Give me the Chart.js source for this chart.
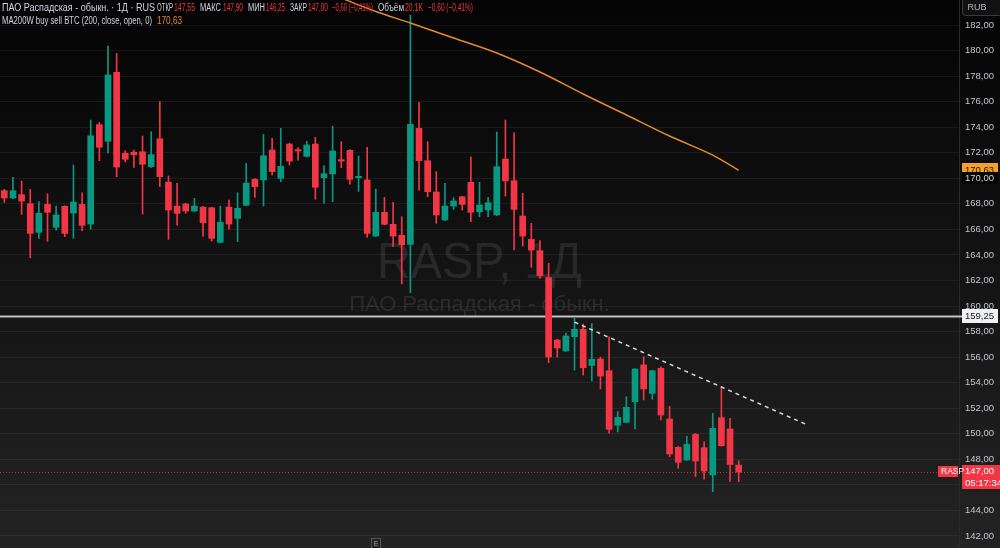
<!DOCTYPE html>
<html>
<head>
<meta charset="utf-8">
<script src="https://cdn.jsdelivr.net/npm/chart.js@4.4.1/dist/chart.umd.min.js"></script>
<style>
  html, body { margin: 0; padding: 0; background: #000; }
  canvas { display: block; }
</style>
</head>
<body>
<canvas id="chart" width="1000" height="548"></canvas>
<script>
// RASP daily candles
const opens = [169.03, 168.46, 168.72, 168.01, 165.77, 167.96, 166.16, 167.81, 167.28, 167.96,
  166.42, 174.20, 172.90, 178.30, 171.96, 172.04, 172.08, 170.91, 173.10, 169.71,
  167.83, 167.99, 167.44, 167.75, 167.70, 164.99, 167.75, 166.87, 167.89, 169.92,
  169.87, 172.22, 170.00, 172.68, 172.24, 171.72, 172.68, 170.05, 170.34, 171.46,
  172.19, 170.05, 169.87, 165.48, 167.34, 166.40, 165.54, 164.83, 173.91, 171.38,
  168.93, 166.74, 167.83, 168.56, 169.69, 167.39, 167.52, 167.13, 171.51, 169.81,
  167.05, 165.22, 164.33, 162.23, 157.34, 156.48, 157.60, 158.18, 155.35, 155.86,
  154.94, 150.67, 150.90, 152.51, 155.39, 153.17, 155.13, 151.16, 148.94, 147.95,
  149.96, 148.91, 146.78, 151.26, 150.38, 147.55];
const highs = [169.14, 170.08, 169.79, 169.14, 168.17, 168.79, 167.83, 167.85, 171.04, 168.87,
  174.56, 174.38, 180.38, 179.78, 172.16, 172.22, 173.31, 173.65, 176.00, 170.18,
  169.61, 168.05, 168.43, 167.80, 167.75, 167.83, 168.30, 168.87, 171.17, 169.98,
  173.44, 173.13, 173.91, 172.75, 172.40, 172.90, 173.21, 170.99, 174.09, 172.87,
  172.25, 171.75, 172.43, 169.16, 168.51, 168.12, 166.99, 182.78, 175.95, 172.87,
  170.52, 169.61, 168.48, 168.60, 171.69, 169.69, 168.51, 173.62, 174.56, 173.57,
  168.83, 166.48, 165.12, 163.35, 157.40, 157.89, 159.06, 158.60, 158.63, 156.01,
  157.60, 151.73, 152.90, 155.10, 156.04, 154.98, 155.25, 152.14, 149.00, 149.80,
  150.02, 149.38, 151.60, 153.69, 151.21, 147.90];
const lows = [168.12, 168.40, 167.18, 163.78, 165.30, 165.07, 165.95, 165.43, 165.30, 165.90,
  166.01, 171.38, 171.96, 170.13, 171.28, 170.86, 167.21, 170.85, 169.34, 165.22,
  166.34, 167.26, 167.40, 165.48, 165.09, 164.95, 166.01, 165.04, 167.85, 168.51,
  167.83, 170.26, 169.73, 171.04, 171.43, 171.68, 168.36, 168.04, 168.17, 170.83,
  169.55, 168.98, 165.38, 165.44, 166.36, 164.65, 161.73, 161.05, 169.08, 168.56,
  166.48, 166.70, 167.57, 167.52, 166.60, 166.99, 166.99, 167.09, 168.61, 164.39,
  164.70, 163.03, 162.17, 155.57, 156.01, 156.44, 154.99, 154.60, 154.13, 153.51,
  150.04, 150.14, 150.86, 150.38, 152.65, 152.70, 151.08, 148.21, 147.30, 147.91,
  146.64, 146.44, 145.47, 149.03, 146.27, 146.25];
const closes = [168.46, 169.03, 168.22, 165.69, 167.26, 167.34, 167.13, 165.69, 168.14, 166.32,
  173.33, 172.43, 178.09, 170.88, 171.49, 171.85, 171.10, 171.85, 170.13, 167.52,
  167.26, 167.44, 167.83, 166.52, 165.30, 166.56, 166.42, 167.65, 169.63, 169.34,
  171.77, 170.52, 170.94, 171.35, 172.14, 172.61, 169.30, 170.36, 172.14, 171.35,
  169.92, 170.16, 165.69, 167.34, 166.40, 165.48, 164.80, 174.23, 171.38, 168.95,
  167.13, 167.83, 168.22, 167.96, 167.34, 167.91, 168.09, 170.91, 169.79, 167.57,
  165.48, 164.39, 162.38, 156.01, 156.72, 157.66, 158.18, 155.17, 155.83, 154.52,
  150.35, 151.29, 152.07, 155.07, 153.51, 154.94, 151.47, 148.42, 147.77, 149.18,
  147.87, 147.09, 150.43, 149.07, 147.60, 147.00];

// price axis ticks
const yTicks = [142, 144, 146, 148, 150, 152, 154, 156, 158, 160, 162, 164, 166, 168, 170, 172, 174, 176, 178, 180, 182];

// MA200W readings (candle index -> value)
const maIdx = [39, 43, 47, 52, 57, 62, 67, 72, 77, 82, 85];
const maVals = [184.11, 183.06, 182.16, 180.98, 179.81, 178.32, 176.60, 174.96, 173.31, 171.82, 170.63];

// dashed resistance line
const trendIdx = [66, 93];
const trendVals = [158.74, 150.68];

const levelPrice = 159.25;
const volumeText = '20,1K';
const countdown = '05:17:34';

const UP = '#089981';
const DOWN = '#f23645';
const MA_COLOR = '#e38a2c';
const FONT = '"Liberation Sans", Arial, sans-serif';
const AXIS_FONT = '9.5px ' + FONT;
const slots = 111; // candles plus empty space on the right

const labels = Array.from({ length: slots }, (_, i) => String(i + 1));
const colors = closes.map((c, i) => (c >= opens[i] ? UP : DOWN));
const fmt = v => v.toFixed(2).replace('.', ',').replace('-', '\u2212');
const last = closes.length - 1;

const background = {
  id: 'background',
  beforeDraw(chart) {
    const { ctx, width, height } = chart;
    const g = ctx.createLinearGradient(0, 0, 0, height);
    g.addColorStop(0, '#040404');
    g.addColorStop(1, '#232323');
    ctx.save();
    ctx.fillStyle = g;
    ctx.fillRect(0, 0, width, height);
    ctx.restore();
  },
  beforeDatasetsDraw(chart) {
    const { ctx, chartArea: a, scales: { y } } = chart;
    const cx = (a.left + a.right) / 2;
    ctx.save();
    // watermark
    ctx.fillStyle = 'rgba(255,255,255,0.09)';
    ctx.textAlign = 'center';
    ctx.textBaseline = 'alphabetic';
    ctx.font = '50px ' + FONT;
    ctx.fillText('RASP, 1Д', cx, 278, 205);
    ctx.font = '22px ' + FONT;
    ctx.fillText('ПАО Распадская - обыкн.', cx, 311, 275);
    // horizontal level
    const ly = Math.round(y.getPixelForValue(levelPrice)) + 0.5;
    ctx.strokeStyle = '#c4c4c4';
    ctx.lineWidth = 2;
    ctx.beginPath();
    ctx.moveTo(a.left, ly);
    ctx.lineTo(a.right + 3, ly);
    ctx.stroke();
    // last price line
    const py = Math.round(y.getPixelForValue(closes[last])) + 0.5;
    ctx.strokeStyle = 'rgba(242,54,69,0.7)';
    ctx.lineWidth = 1;
    ctx.setLineDash([1, 2]);
    ctx.beginPath();
    ctx.moveTo(a.left, py);
    ctx.lineTo(a.right, py);
    ctx.stroke();
    ctx.restore();
  }
};

function tag(ctx, x, y, w, h, fill, lines, color) {
  ctx.fillStyle = fill;
  ctx.fillRect(x, y, w, h);
  ctx.fillStyle = color;
  ctx.textAlign = 'left';
  ctx.textBaseline = 'middle';
  const lh = h / lines.length;
  lines.forEach((t, i) => ctx.fillText(t, x + 3, y + lh * i + lh / 2 + 0.5));
}

const overlay = {
  id: 'overlay',
  afterDraw(chart) {
    const { ctx, chartArea: a, scales: { y } } = chart;
    const tx = a.right + 3;
    ctx.save();

    // RUB box
    ctx.strokeStyle = '#3a3a3a';
    ctx.fillStyle = '#111';
    ctx.beginPath();
    ctx.roundRect(962.5, -3.5, 40, 19, 3);
    ctx.fill();
    ctx.stroke();
    ctx.fillStyle = '#b2b5be';
    ctx.textAlign = 'center';
    ctx.textBaseline = 'middle';
    ctx.font = '9px ' + FONT;
    ctx.fillText('RUB', 977, 8);
    ctx.font = AXIS_FONT;

    // MA value + covered tick
    const maLast = maVals[maVals.length - 1];
    const my = y.getPixelForValue(maLast);
    tag(ctx, tx, Math.round(my) - 7, 36, 13, '#f5a028', [fmt(maLast)], '#2a1600');
    const ty = y.getPixelForValue(170);
    tag(ctx, tx, Math.round(ty) - 6, 36, 12, '#050505', [fmt(170)], '#d1d4dc');

    // level tag
    const ly = y.getPixelForValue(levelPrice);
    tag(ctx, tx, Math.round(ly) - 7, 36, 14, '#f0f0f0', [fmt(levelPrice)], '#131722');

    // last price tag
    const py = y.getPixelForValue(closes[last]);
    tag(ctx, tx, Math.round(py) - 7, 38, 24, DOWN, [fmt(closes[last]), countdown], '#fff');
    ctx.font = '8.5px ' + FONT;
    tag(ctx, a.right - 21, Math.round(py) - 6, 20, 11, DOWN, ['RASP'], '#fff');
    ctx.font = '10px ' + FONT;

    // legend rows: [text, x, colour, width]
    const chg = closes[last] - closes[last - 1];
    const pct = chg / closes[last - 1] * 100;
    const chgText = fmt(chg) + ' (' + fmt(pct) + '%)';
    const W = '#d1d4dc';
    const R = DOWN;
    const row1 = [
      ['ПАО Распадская - обыкн. · 1Д · RUS', 2, W, 153],
      ['ОТКР', 157, W, 16], [fmt(opens[last]), 174, R, 21],
      ['МАКС', 200, W, 21], [fmt(highs[last]), 223, R, 20],
      ['МИН', 248, W, 17], [fmt(lows[last]), 266, R, 19],
      ['ЗАКР', 290, W, 17], [fmt(closes[last]), 308, R, 20],
      [chgText, 332, R, 41],
      ['Объём', 378, W, 26], [volumeText, 405, R, 18],
      [chgText, 428, R, 45]
    ];
    const row2 = [
      ['MA200W buy sell BTC (200, close, open, 0)', 2, W, 150],
      [fmt(maLast), 157, MA_COLOR, 25]
    ];
    ctx.textAlign = 'left';
    ctx.textBaseline = 'middle';
    row1.forEach(([t, x, c, w]) => { ctx.fillStyle = c; ctx.fillText(t, x, 8, w); });
    row2.forEach(([t, x, c, w]) => { ctx.fillStyle = c; ctx.fillText(t, x, 21, w); });

    // small marker at the bottom
    ctx.strokeStyle = '#555';
    ctx.lineWidth = 1;
    ctx.strokeRect(371.5, 538.5, 9, 12);
    ctx.fillStyle = '#aaa';
    ctx.font = '7px ' + FONT;
    ctx.textAlign = 'center';
    ctx.fillText('E', 376, 544);
    ctx.restore();
  }
};

new Chart(document.getElementById('chart'), {
  type: 'bar',
  data: {
    labels: labels,
    datasets: [
      {
        type: 'line',
        label: 'MA200W',
        data: maIdx.map((i, k) => ({ x: labels[i], y: maVals[k] })),
        borderColor: MA_COLOR,
        borderWidth: 1.5,
        pointRadius: 0,
        tension: 0.3,
        order: 0
      },
      {
        type: 'line',
        label: 'trend',
        data: trendIdx.map((i, k) => ({ x: labels[i], y: trendVals[k] })),
        borderColor: '#d8d8d8',
        borderWidth: 1.5,
        borderDash: [4, 4],
        pointRadius: 0,
        order: 0
      },
      {
        label: 'body',
        data: opens.map((o, i) => [o, closes[i]]),
        backgroundColor: colors,
        barThickness: 6,
        minBarLength: 1,
        grouped: false,
        order: 1
      },
      {
        label: 'wick',
        data: lows.map((l, i) => [l, highs[i]]),
        backgroundColor: colors,
        barThickness: 1,
        grouped: false,
        order: 2
      }
    ]
  },
  options: {
    responsive: false,
    animation: false,
    devicePixelRatio: 1,
    layout: { padding: 0 },
    plugins: {
      legend: { display: false },
      tooltip: { enabled: false }
    },
    scales: {
      x: {
        display: false,
        offset: true
      },
      y: {
        position: 'right',
        min: 141.06,
        max: 183.96,
        afterFit: s => { s.width = 41; s.paddingTop = 0; s.paddingBottom = 0; },
        afterBuildTicks: s => { s.ticks = yTicks.map(v => ({ value: v })); },
        grid: { color: 'rgba(255,255,255,0.055)', drawTicks: false },
        border: { color: '#2a2a2a' },
        ticks: {
          color: '#c3c6ce',
          padding: 6,
          font: { family: FONT, size: 9.5 },
          callback: v => fmt(v)
        }
      }
    }
  },
  plugins: [background, overlay]
});
</script>
</body>
</html>
